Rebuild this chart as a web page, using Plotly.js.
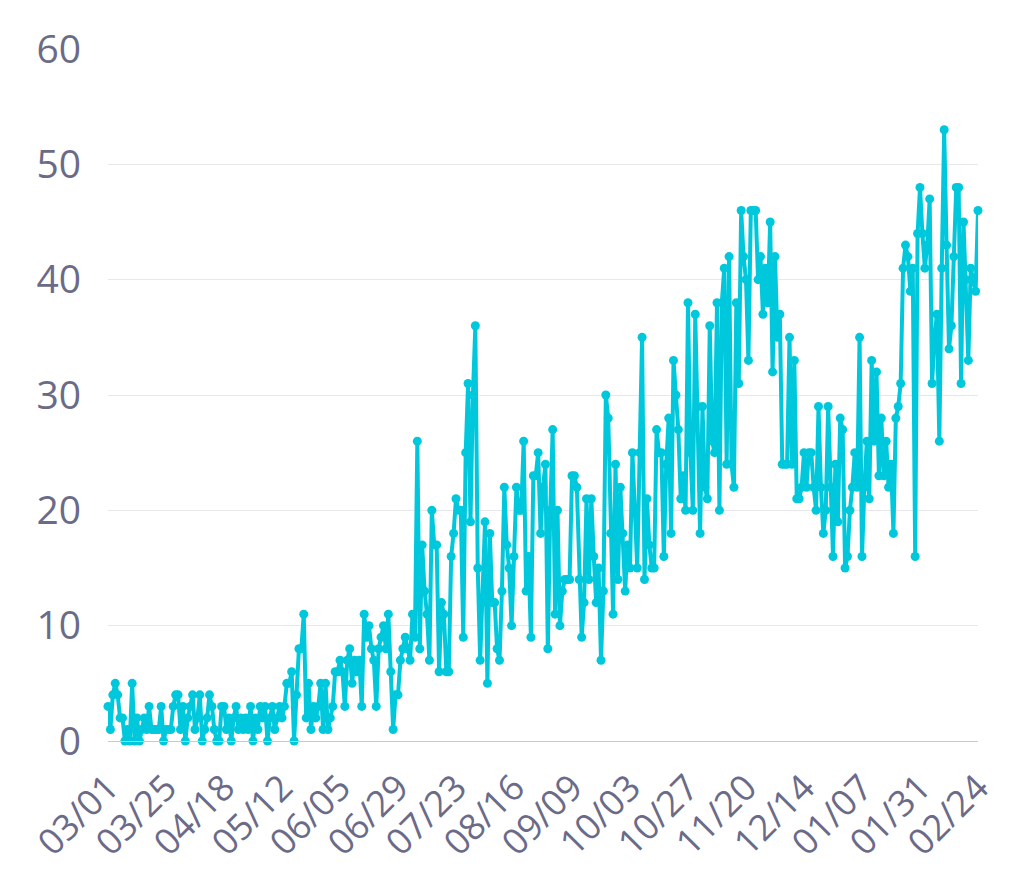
<!DOCTYPE html>
<html>
<head>
<meta charset="utf-8">
<script src="https://cdn.plot.ly/plotly-3.0.1.min.js"></script>
<style>html,body{margin:0;padding:0;background:#fff;}#chart{width:1020px;height:890px;}</style>
</head>
<body>
<div id="chart"></div>
<script>
const startDate = "2020-03-01";
const tickLabels = ["03/01","03/25","04/18","05/12","06/05","06/29","07/23","08/16","09/09","10/03","10/27","11/20","12/14","01/07","01/31","02/24"];
const tickStepDays = 24;
const valuesA = [3,1,4,5,4,2,2,0,1,0,5,0,2,0,1,2,1,3,1,1,1,1,3,0];
const valuesB = [1,1,1,3,4,4,1,3,0,2,3,4,1,2,4,0,1,2,4,3,1,0,0,3];
const valuesC = [3,1,2,0,2,3,1,2,1,2,1,3,0,2,1,3,2,3,0,2,3,1,2,3];
const valuesD = [2,3,5,5,6,0,4,8,8,11,2,5,1,3,2,3,5,1,5,1,2,3,6,6];
const valuesE = [7,6,3,7,8,5,7,6,7,3,11,9,10,8,7,3,8,9,10,8,11,6,1,4];
const valuesF = [4,7,8,9,8,7,11,9,26,8,17,13,11,7,20,17,17,6,12,11,6,6,16,18];
const valuesG = [21,20,20,9,25,31,19,30,36,15,7,12,19,5,18,12,12,8,7,13,22,17,15,10];
const valuesH = [16,22,20,20,26,13,16,9,23,23,25,18,22,24,8,20,27,11,20,10,13,14,14,14];
const valuesI = [23,23,22,14,9,12,21,14,21,16,12,15,7,13,30,28,18,11,24,14,22,18,13,17];
const valuesJ = [15,25,20,15,25,35,14,21,17,15,15,27,25,25,16,24,28,18,33,30,27,21,23,20];
const valuesK = [38,25,20,37,29,18,29,22,21,36,26,25,38,20,38,41,24,42,24,22,38,31,46,42];
const valuesL = [40,33,46,46,46,40,42,37,41,38,45,32,42,35,37,24,24,24,35,24,33,21,21,22];
const valuesM = [25,22,25,25,22,20,29,22,18,20,29,22,16,24,19,28,27,15,16,20,22,25,22,35];
const valuesN = [16,22,26,21,33,26,32,23,28,23,26,22,24,18,28,29,31,41,43,42,39,41,16,44];
const valuesO = [48,44,41,43,47,31,35,37,26,41,53,43,34,36,42,48,48,31,45,40,33,41,40,39,46];

const values = [].concat(valuesA,valuesB,valuesC,valuesD,valuesE,valuesF,valuesG,valuesH,valuesI,valuesJ,valuesK,valuesL,valuesM,valuesN,valuesO);

function addDays(iso, n){
  const d = new Date(iso + "T00:00:00Z");
  d.setUTCDate(d.getUTCDate() + n);
  return d.toISOString().slice(0,10);
}
const dates = values.map((_, i) => addDays(startDate, i));
const tickVals = tickLabels.map((_, i) => addDays(startDate, i * tickStepDays));

const fontFam = '"Source Sans Pro","Open Sans","Noto Sans",sans-serif';
const textColor = '#6b6b88';

Plotly.newPlot('chart', [{
  x: dates,
  y: values,
  type: 'scatter',
  mode: 'lines+markers',
  line: {color: '#00c8dc', width: 4},
  marker: {color: '#00c8dc', size: 9},
  cliponaxis: false,
  hoverinfo: 'x+y'
}], {
  width: 1020,
  height: 890,
  margin: {l: 108, r: 42, t: 49, b: 149},
  paper_bgcolor: '#ffffff',
  plot_bgcolor: '#ffffff',
  showlegend: false,
  font: {family: fontFam, color: textColor, size: 38},
  xaxis: {
    type: 'date',
    range: [dates[0], dates[dates.length - 1]],
    tickmode: 'array',
    tickvals: tickVals,
    ticktext: tickLabels,
    tickangle: -45,
    tickfont: {family: fontFam, size: 36, color: textColor},
    showgrid: false,
    showline: true,
    linecolor: '#c8c8d2',
    linewidth: 1,
    zeroline: false,
    ticks: 'outside',
    ticklen: 10,
    tickcolor: 'rgba(0,0,0,0)',
    automargin: false
  },
  yaxis: {
    range: [0, 60],
    tickvals: [0,10,20,30,40,50,60],
    tickfont: {family: fontFam, size: 39, color: textColor},
    showgrid: true,
    gridcolor: '#e8e8ec',
    gridwidth: 1,
    zeroline: false,
    showline: false,
    ticks: '',
    ticklabelstandoff: 26,
    automargin: false
  }
}, {displayModeBar: false, staticPlot: true});
</script>
</body>
</html>
